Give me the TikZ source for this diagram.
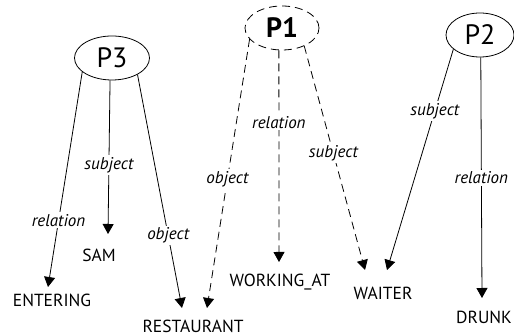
\documentclass[tikz,border=0pt]{standalone}
\usepackage{fontspec}
\setmainfont{PT Sans}
\usetikzlibrary{arrows.meta,shapes.geometric}
\begin{document}
\begin{tikzpicture}[x=1pt,y=-1pt,
  prop/.style={ellipse,draw,line width=0.8pt,inner sep=0pt,font=\fontsize{28}{28}\selectfont},
  term/.style={inner sep=0pt,font=\fontsize{17.5}{17.5}\selectfont},
  rel/.style={line width=0.8pt,-{Triangle[width=11pt,length=10pt]}},
  dsh/.style={rel,dash pattern=on 8pt off 5pt},
  lab/.style={fill=white,inner sep=2pt,font=\fontsize{17}{17}\selectfont\itshape}]
\useasboundingbox (0,0) rectangle (514,336);

% propositions
\node[prop,minimum width=75pt,minimum height=44pt] (P3) at (112,58) {P3};
\node[prop,dash pattern=on 8pt off 5pt,minimum width=74pt,minimum height=44pt,font=\fontsize{28}{28}\selectfont\bfseries] (P1) at (282,28) {P1};
\node[prop,minimum width=68pt,minimum height=44pt] (P2) at (480,35) {P2};

% terms
\node[term] (ENT) at (52,300) {ENTERING};
\node[term] (SAM) at (99,255) {SAM};
\node[term] (REST) at (193,326) {RESTAURANT};
\node[term] (WORK) at (280,282) {WORKING\_AT};
\node[term] (WAIT) at (383,293) {WAITER};
\node[term] (DRUNK) at (484,317) {DRUNK};

% arrow tips above the terms
\coordinate (tEnt) at (48,287);
\coordinate (tSam) at (108,234);
\coordinate (tRestA) at (182,308);
\coordinate (tRestB) at (207,308);
\coordinate (tWork) at (279,262);
\coordinate (tWaitA) at (365,270);
\coordinate (tWaitB) at (387,270);
\coordinate (tDrunk) at (482,298);

% P3
\draw[rel] (P3.205) -- node[lab,pos=0.69] {relation} (tEnt);
\draw[rel] (P3.265) -- node[lab,pos=0.55] {subject} (tSam);
\draw[rel] (P3.327) -- node[lab,pos=0.69] {object} (tRestA);
% P1
\draw[dsh] (P1.199) -- node[lab,pos=0.52] {object} (tRestB);
\draw[dsh] (P1.262) -- node[lab,pos=0.34] {relation} (tWork);
\draw[dsh] (P1.321) -- node[lab,pos=0.48] {subject} (tWaitA);
% P2
\draw[rel] (P2.208) -- node[lab,pos=0.28] {subject} (tWaitB);
\draw[rel] (P2.272) -- node[lab,pos=0.50] {relation} (tDrunk);
\end{tikzpicture}
\end{document}
